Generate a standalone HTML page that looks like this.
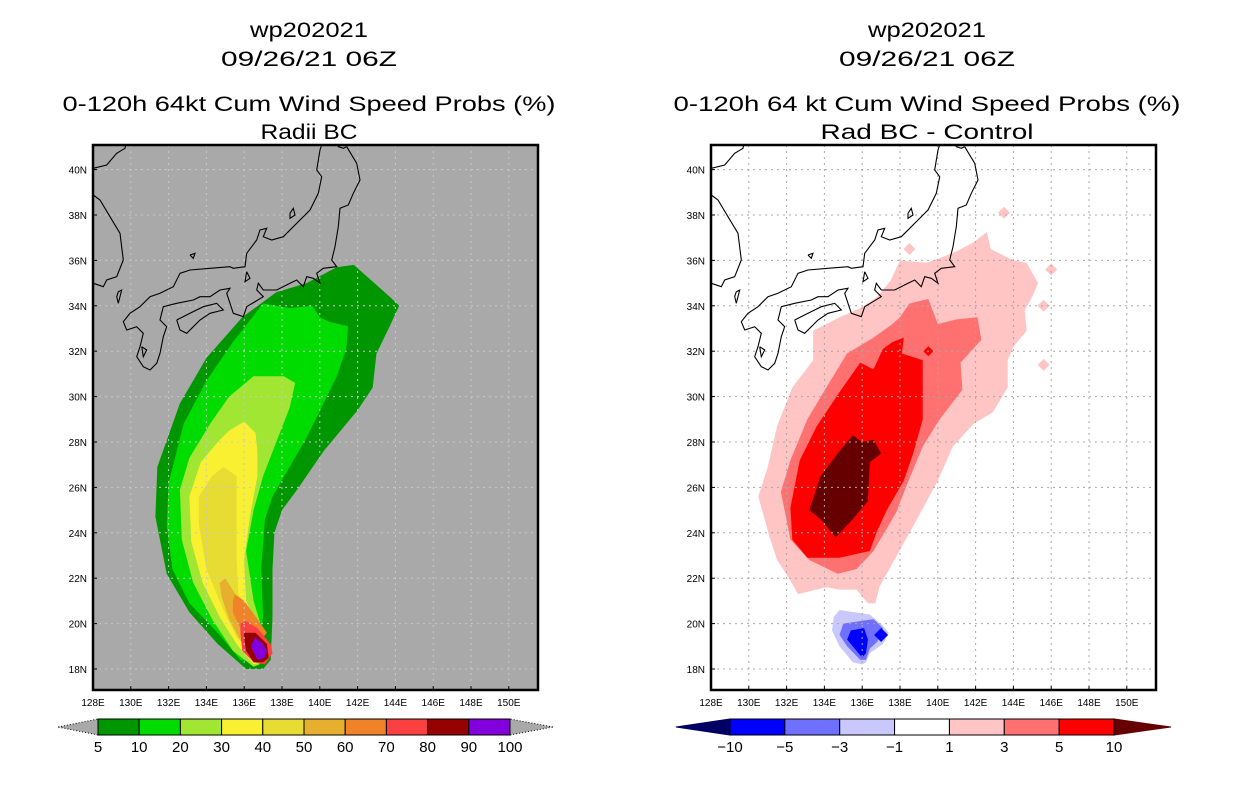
<!DOCTYPE html>
<html><head><meta charset="utf-8">
<style>
html,body{margin:0;padding:0;background:#fff;}
svg{display:block;font-family:"Liberation Sans",sans-serif;}
.t{font-size:21px;fill:#000;text-anchor:middle;}
.ax{font-size:10px;fill:#000;}
.cb{font-size:15px;fill:#000;text-anchor:middle;}
</style></head>
<body>
<svg id="fig" width="1236" height="800" viewBox="0 0 1236 800" xmlns="http://www.w3.org/2000/svg">
<rect x="0" y="0" width="1236" height="800" fill="#fff"/>
<g>
<text class="t" x="309" y="37" textLength="118" lengthAdjust="spacingAndGlyphs">wp202021</text>
<text class="t" x="309" y="66" textLength="176" lengthAdjust="spacingAndGlyphs">09/26/21 06Z</text>
<text class="t" x="309" y="111" textLength="493" lengthAdjust="spacingAndGlyphs">0-120h 64kt Cum Wind Speed Probs (%)</text>
<text class="t" x="309" y="139" textLength="97" lengthAdjust="spacingAndGlyphs">Radii BC</text>
</g>
<g>
<text class="t" x="927" y="37" textLength="118" lengthAdjust="spacingAndGlyphs">wp202021</text>
<text class="t" x="927" y="66" textLength="176" lengthAdjust="spacingAndGlyphs">09/26/21 06Z</text>
<text class="t" x="927" y="111" textLength="507" lengthAdjust="spacingAndGlyphs">0-120h 64 kt Cum Wind Speed Probs (%)</text>
<text class="t" x="927" y="139" textLength="213" lengthAdjust="spacingAndGlyphs">Rad BC - Control</text>
</g>
<g id="left"></g>
<g id="right"></g>
<g id="cbl"></g>
<g id="cbr"></g>
</svg>
<script>
// ---- axes ----
const lonTicks = [128,130,132,134,136,138,140,142,144,146,148,150];
const latTicks = [18,20,22,24,26,28,30,32,34,36,38,40];
// ---- left panel contour levels (lon,lat vertices) ----
const leftColors = ["#009600","#00DC00","#A0E632","#FAF032","#E6DC32","#E6AF2D","#F08228","#FA4040","#960000","#8200DC"];
const leftLevels = ["5","10","20","30","40","50","60","70","80","90","100"];
const p5 = [[140.9,35.7],[141.8,35.8],[143.7,34.4],[144.2,34.0],[143.7,33.1],[143.0,31.9],[142.8,30.4],[142.0,29.4],[140.2,27.6],[138.8,25.9],[138.0,25.0],[137.6,24.0],[137.5,22.4],[137.5,20.3],[137.4,18.4],[137.0,18.0],[136.1,18.0],[134.6,19.1],[133.1,20.5],[131.9,22.2],[131.3,24.7],[131.4,26.9],[132.6,29.7],[134.0,31.7],[135.9,33.5],[137.7,34.6],[139.3,35.0]];
const p10 = [[137.0,34.1],[138.4,33.9],[139.6,34.0],[140.0,33.5],[140.5,33.3],[141.5,33.1],[141.4,32.1],[140.9,30.9],[140.2,29.7],[139.3,28.2],[138.4,26.9],[137.5,25.6],[137.1,24.6],[136.9,22.4],[137.0,20.3],[136.8,18.8],[136.5,18.3],[135.8,18.4],[134.6,19.6],[133.1,20.9],[132.2,22.4],[131.9,24.3],[132.0,26.2],[132.8,28.8],[134.0,30.7],[135.4,32.4]];
const p20 = [[136.5,30.9],[138.1,30.9],[138.7,30.6],[138.4,29.5],[137.7,28.0],[137.0,26.5],[136.5,25.0],[136.1,23.2],[136.5,21.0],[137.0,19.6],[137.2,18.8],[136.8,18.2],[136.5,18.1],[135.4,18.8],[134.3,20.2],[133.3,21.8],[132.7,23.7],[132.6,25.9],[133.1,27.3],[134.2,28.8],[135.2,30.0]];
const p30 = [[136.0,28.9],[136.6,28.4],[136.7,27.6],[136.7,26.5],[136.3,24.7],[136.0,22.8],[136.1,21.0],[136.7,19.9],[137.1,19.0],[136.8,18.3],[136.5,18.2],[135.6,19.1],[134.7,20.3],[133.8,21.8],[133.2,23.6],[133.1,25.6],[133.7,27.1],[134.6,28.0],[135.2,28.5]];
const p40 = [[134.3,26.5],[134.9,26.9],[135.6,26.5],[135.6,24.7],[135.6,22.8],[135.7,21.2],[136.3,20.2],[136.7,19.3],[136.3,18.8],[135.6,19.4],[134.9,20.6],[134.0,22.4],[133.6,24.4],[133.6,25.6]];
const p50 = [[135.0,22.0],[135.6,21.2],[136.1,20.3],[136.7,19.6],[137.0,19.0],[136.7,18.6],[135.9,19.1],[135.2,20.2],[134.8,21.2],[134.7,21.8]];
const p60 = [[135.5,21.3],[136.0,21.0],[136.7,20.2],[137.2,19.6],[136.8,19.2],[135.9,19.6],[135.4,20.5],[135.4,21.0]];
const p70 = [[135.8,20.0],[136.1,20.1],[136.7,19.8],[137.4,19.1],[137.5,18.7],[137.1,18.2],[136.5,18.3],[135.9,18.8],[135.8,19.6]];
const p80 = [[136.0,19.6],[136.6,19.6],[137.2,19.1],[137.3,18.5],[137.0,18.3],[136.5,18.3],[136.1,18.8],[136.0,19.4]];
const p90 = [[136.6,19.4],[137.0,19.1],[137.2,18.8],[137.1,18.5],[136.7,18.4],[136.4,18.9],[136.4,19.1]];
const leftPolys = [p5,p10,p20,p30,p40,p50,p60,p70,p80,p90];
// ---- right panel difference contours ----
const rightColors = ["#000064","#0000FF","#7070FF","#C8C8FF","#FFFFFF","#FFC5C5","#FF7070","#FF0000","#660000"];
const rightLevels = ["-10","-5","-3","-1","1","3","5","10"];
const r1 = [[142.6,37.25],[142.8,36.5],[144.0,36.0],[144.7,35.9],[145.3,35.0],[145.0,34.4],[144.6,33.8],[144.7,32.9],[144.0,32.2],[143.7,31.6],[143.7,30.4],[142.9,29.3],[141.9,28.8],[140.8,27.8],[140.0,26.3],[138.9,24.6],[137.9,23.1],[136.9,21.6],[136.7,20.9],[136.3,20.9],[135.7,21.5],[134.8,21.5],[134.1,21.6],[132.6,21.3],[132.2,21.9],[131.5,22.8],[131.1,23.8],[130.5,25.6],[131.0,26.9],[131.5,28.7],[132.3,30.4],[133.4,31.6],[133.4,32.9],[134.8,33.5],[135.9,33.9],[136.8,34.4],[137.5,35.1],[138.0,36.0],[139.4,35.9],[140.1,36.1],[141.0,36.4],[141.9,36.8]];
const r1Spots = [[146.0,35.6],[145.6,34.0],[145.6,31.4],[138.5,36.5],[143.5,38.1]];
const r3 = [[139.5,34.3],[140.0,33.2],[141.0,33.4],[142.1,33.5],[142.3,32.5],[141.2,31.5],[141.3,30.3],[140.1,29.0],[139.2,27.8],[138.4,26.2],[137.8,24.9],[136.6,23.2],[135.7,22.4],[134.7,22.2],[133.2,22.8],[132.2,23.7],[131.7,25.8],[132.2,27.2],[133.1,29.0],[134.1,30.4],[135.2,31.9],[136.6,32.6],[137.6,33.2],[138.0,33.5],[138.5,34.1]];
const r5 = [[138.2,32.6],[138.1,31.9],[139.2,31.6],[139.2,30.4],[139.2,29.0],[138.7,27.5],[138.2,26.3],[137.3,25.0],[136.8,24.1],[136.4,23.2],[134.8,22.9],[133.1,22.9],[132.3,23.7],[132.2,25.1],[132.7,27.2],[133.6,28.7],[134.8,30.2],[135.9,31.5],[136.6,31.2],[137.1,32.1],[137.6,32.4]];
const r5Spots = [[139.5,32.0]];
const r10 = [[135.5,28.3],[136.0,28.0],[136.6,28.1],[137.0,27.5],[136.4,27.1],[136.3,25.4],[135.5,24.6],[134.6,23.8],[133.8,24.6],[133.2,25.0],[133.8,26.5],[134.7,27.5]];
const rm1 = [[134.8,20.6],[136.4,20.4],[137.1,19.9],[137.4,19.6],[137.1,19.1],[136.4,18.7],[136.2,18.3],[136.0,18.2],[135.5,18.3],[134.8,19.0],[134.4,19.7],[134.5,20.3]];
const rm3 = [[135.0,20.0],[136.6,20.2],[137.1,19.8],[136.8,19.2],[136.4,18.9],[136.2,18.4],[135.9,18.4],[135.2,19.0],[134.8,19.5]];
const rm5 = [[135.4,19.7],[136.1,19.8],[136.3,19.3],[136.2,18.7],[136.0,18.5],[135.2,19.3]];
const rm5Spots = [[137.0,19.5]];

// ---- projection ----
const MAPW = 445, MAPH = 545, MAPTOP = 145;
function xs(lon){ return (lon - 128) * 18.9; }
function ys(lat){ return 524 - (lat - 18) * 22.7; }
const NS = "http://www.w3.org/2000/svg";
function mk(tag, attrs, parent){
  const e = document.createElementNS(NS, tag);
  for (const k in attrs) e.setAttribute(k, attrs[k]);
  parent.appendChild(e);
  return e;
}
function pts(poly){ return poly.map(p => xs(p[0]).toFixed(1) + "," + ys(p[1]).toFixed(1)).join(" "); }
function diamond(p, r){
  const x = xs(p[0]), y = ys(p[1]);
  return `${x},${y-r} ${x+r},${y} ${x},${y+r} ${x-r},${y}`;
}

// coastline (decorative, traced panel pixel coordinates)
const coastRaw = [
 [[770,20],[800,70],[810,120],[790,160],[775,195],[750,205],[745,260],[735,320],[725,360],[740,380],[700,385],[680,400],[690,430],[670,415],[650,410],[640,440],[620,420],[600,430],[560,450],[520,450],[505,430],[500,450],[520,470],[470,500],[460,530],[430,520],[420,490],[410,460],[420,445],[390,450],[360,470],[330,470],[310,480],[260,490],[220,500],[210,540],[230,560],[220,590],[210,640],[200,670],[180,690],[160,680],[140,650],[150,620],[160,580],[140,560],[110,570],[100,545],[120,520],[150,500],[180,470],[210,460],[250,440],[270,400],[300,390],[360,385],[420,380],[430,385],[465,380],[470,340],[500,300],[510,270],[530,265],[520,290],[545,300],[580,290],[630,240],[660,210],[685,160],[695,110],[680,90],[690,30],[700,0]],
 [[740,0],[745,20],[760,25],[770,20]],
 [[260,540],[300,520],[340,500],[380,490],[400,510],[360,520],[330,540],[290,580],[270,570],[260,540]],
 [[10,85],[50,75],[80,40],[105,25],[110,0]],
 [[10,165],[30,180],[60,230],[90,280],[100,360],[80,410],[50,420],[40,440],[10,430]],
 [[600,220],[610,205],[615,225],[600,235],[600,220]],
 [[470,395],[480,415],[465,425],[470,395]],
 [[85,455],[95,450],[85,490],[80,470],[85,455]],
 [[155,620],[170,630],[160,650],[155,620]],
 [[300,345],[315,340],[310,355],[300,345]]
];

function drawPanel(g, ox, bg, gridColor, fillFn){
  const root = mk("g", {transform:`translate(${ox},${MAPTOP})`}, g);
  const clipId = "clip" + ox;
  const defs = mk("defs", {}, root);
  const cp = mk("clipPath", {id:clipId}, defs);
  mk("rect", {x:0, y:0, width:MAPW, height:MAPH}, cp);
  const bgr = mk("rect", {x:0, y:0, width:MAPW, height:MAPH, fill:bg}, root);
  
  
  const body = mk("g", {"clip-path":`url(#${clipId})`}, root);
  fillFn(body);
  const grid = mk("g", {stroke:gridColor, "stroke-width":1, "stroke-dasharray":"2,4"}, body);
  
  
  lonTicks.forEach(l => { if (l > 128) mk("line", {x1:xs(l), x2:xs(l), y1:0, y2:MAPH}, grid); });
  latTicks.forEach(l => mk("line", {x1:0, x2:MAPW, y1:ys(l), y2:ys(l)}, grid));
  const coast = mk("g", {fill:"none", stroke:"#000", "stroke-width":1.1}, body);
  
  
  coastRaw.forEach(seg => {
    mk("polyline", {points: seg.map(p => (p[0]/3-3).toFixed(1)+","+(p[1]/3-5).toFixed(1)).join(" ")}, coast);
  });
  const br = mk("rect", {x:0, y:0, width:MAPW, height:MAPH, fill:"none", stroke:"#000", "stroke-width":2.5}, root);
  
  
  const xa = mk("g", {}, root);
  
  
  lonTicks.forEach(l => {
    const t = mk("text", {x:xs(l), y:MAPH+16, class:"ax", "text-anchor":"middle"}, xa);
    t.textContent = l + "E";
    mk("line", {x1:xs(l), x2:xs(l), y1:MAPH, y2:MAPH-4, stroke:"#000"}, xa);
  });
  const ya = mk("g", {}, root);
  
  
  latTicks.forEach(l => {
    const t = mk("text", {x:-6, y:ys(l)+4, class:"ax", "text-anchor":"end"}, ya);
    t.textContent = l + "N";
    mk("line", {x1:0, x2:4, y1:ys(l), y2:ys(l), stroke:"#000"}, ya);
  });
}

drawPanel(document.getElementById("left"), 93, "#A9A9A9", "#C8C8C8", body => {
  leftPolys.forEach((poly, i) => {
    const p = mk("polygon", {points: pts(poly), fill: leftColors[i]}, body);
    
    
  });
});

drawPanel(document.getElementById("right"), 711, "#FFFFFF", "#A8A8A8", body => {
  const layers = [[r1, "#FFC5C5", "contour-plus-1"], [r3, "#FF7070", "contour-plus-3"], [r5, "#FF0000", "contour-plus-5"], [r10, "#660000", "contour-plus-10"],
                  [rm1, "#C8C8FF", "contour-minus-1"], [rm3, "#7070FF", "contour-minus-3"], [rm5, "#0000FF", "contour-minus-5"]];
  layers.forEach(L => {
    const p = mk("polygon", {points: pts(L[0]), fill: L[1]}, body);
    
    
  });
  r1Spots.forEach(s => {
    const d = mk("polygon", {points: diamond(s, 6), fill:"#FFC5C5"}, body);
    
    
  });
  r5Spots.forEach(s => {
    const d = mk("polygon", {points: diamond(s, 5), fill:"#FF0000"}, body);
    
    
  });
  rm5Spots.forEach(s => {
    const d = mk("polygon", {points: diamond(s, 7), fill:"#0000FF"}, body);
    
    
  });
});

// ---- colorbars ----
function colorbar(g, x0, x1, y0, y1, tl, tr, colors, labels, triL, triR, dashed){
  const n = colors.length;
  const w = (x1 - x0) / n, ym = (y0 + y1) / 2;
  const a = mk("polygon", {points:`${tl},${ym} ${x0},${y0} ${x0},${y1}`, fill:triL, stroke: dashed ? "#000" : triL, "stroke-width":1, "stroke-dasharray": dashed ? "1,2" : "none"}, g);
  
  
  const b = mk("polygon", {points:`${tr},${ym} ${x1},${y0} ${x1},${y1}`, fill:triR, stroke: dashed ? "#000" : triR, "stroke-width":1, "stroke-dasharray": dashed ? "1,2" : "none"}, g);
  
  
  colors.forEach((c, i) => {
    const r = mk("rect", {x:x0 + i*w, y:y0, width:w, height:y1-y0, fill:c, stroke:"#000", "stroke-width":1}, g);
    
    
  });
  labels.forEach((l, i) => {
    const t = mk("text", {x:x0 + i*w, y:y1 + 17, class:"cb"}, g);
    
    
    t.textContent = l.replace("-", "\u2212");
  });
}
colorbar(document.getElementById("cbl"), 98, 510, 719, 735, 58, 553, leftColors, leftLevels, "#A9A9A9", "#A9A9A9", true);
colorbar(document.getElementById("cbr"), 730, 1114, 719, 735, 676, 1171, rightColors.slice(1, 8), rightLevels, "#000064", "#660000", false);
</script>
</body></html>
